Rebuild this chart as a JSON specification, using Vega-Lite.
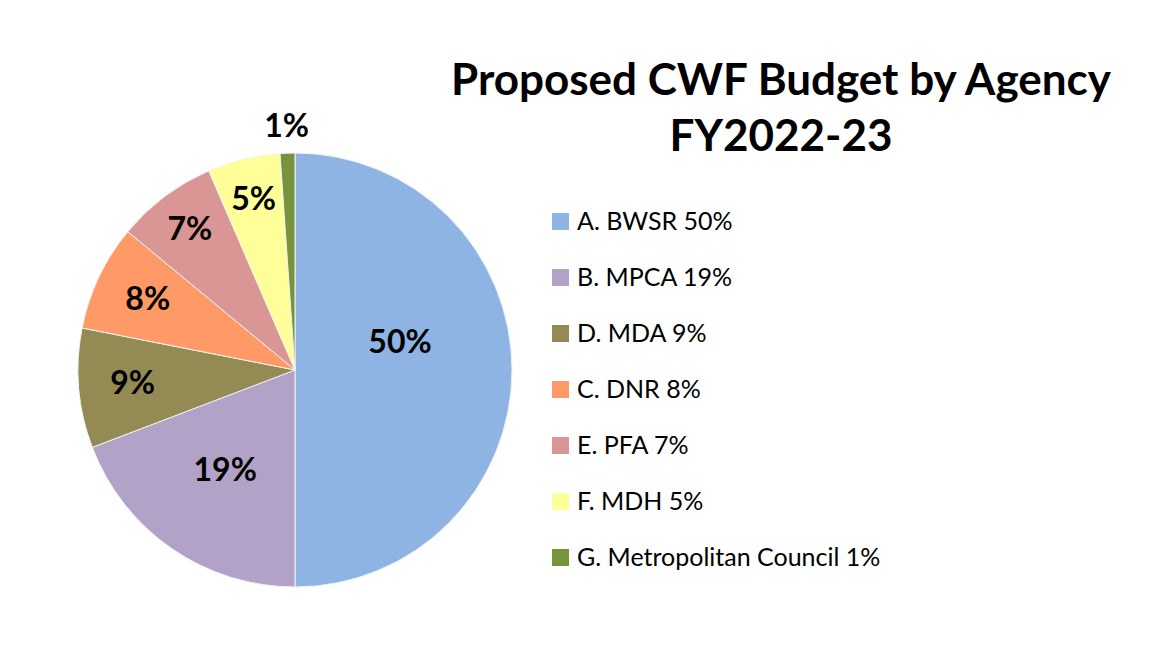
{
  "$schema": "https://vega.github.io/schema/vega-lite/v6.json",
  "width": 434,
  "height": 434,
  "autosize": {"type": "none"},
  "padding": {"left": 78, "top": 153, "right": 651, "bottom": 82},
  "background": "white",
  "title": {
    "text": ["Proposed CWF Budget by Agency", "FY2022-23"],
    "font": "Lato",
    "fontSize": 44,
    "fontWeight": "bold",
    "color": "black",
    "anchor": "middle",
    "dx": 486,
    "dy": 49,
    "offset": 0,
    "lineHeight": 56
  },
  "data": {
    "values": [
      {"order": 1, "agency": "A. BWSR 50%", "value": 50.0, "label": "50%"},
      {"order": 2, "agency": "B. MPCA 19%", "value": 19.2, "label": "19%"},
      {"order": 3, "agency": "D. MDA 9%", "value": 8.9, "label": "9%"},
      {"order": 4, "agency": "C. DNR 8%", "value": 7.9, "label": "8%"},
      {"order": 5, "agency": "E. PFA 7%", "value": 7.5, "label": "7%"},
      {"order": 6, "agency": "F. MDH 5%", "value": 5.4, "label": "5%"},
      {"order": 7, "agency": "G. Metropolitan Council 1%", "value": 1.1, "label": "1%"}
    ]
  },
  "encoding": {
    "theta": {"field": "value", "type": "quantitative", "stack": true},
    "order": {"field": "order", "type": "quantitative"}
  },
  "layer": [
    {
      "mark": {"type": "arc", "stroke": "#f2f2f2", "strokeWidth": 1},
      "encoding": {
        "color": {
          "field": "agency",
          "type": "nominal",
          "scale": {
            "domain": ["A. BWSR 50%", "B. MPCA 19%", "D. MDA 9%", "C. DNR 8%", "E. PFA 7%", "F. MDH 5%", "G. Metropolitan Council 1%"],
            "range": ["#8EB4E3", "#B3A2C7", "#948A54", "#FF9966", "#D99694", "#FFFF99", "#77933C"]
          },
          "legend": {
            "orient": "none",
            "legendX": 470,
            "legendY": 56,
            "title": null,
            "padding": 0,
            "labelFont": "Lato",
            "labelFontSize": 25,
            "labelColor": "black",
            "symbolType": "square",
            "symbolSize": 289,
            "symbolStrokeWidth": 0,
            "symbolOpacity": 1,
            "rowPadding": 30,
            "labelOffset": 4,
            "labelLimit": 500
          }
        }
      }
    },
    {
      "mark": {"type": "text", "radius": 105, "dy": -27, "font": "Lato", "fontSize": 32, "fontWeight": "bold", "color": "black", "align": "center", "baseline": "middle"},
      "encoding": {"text": {"condition": {"test": "datum.order === 1", "field": "label"}, "value": ""}}
    },
    {
      "mark": {"type": "text", "radius": 123, "font": "Lato", "fontSize": 32, "fontWeight": "bold", "color": "black", "align": "center", "baseline": "middle"},
      "encoding": {"text": {"condition": {"test": "datum.order === 2", "field": "label"}, "value": ""}}
    },
    {
      "mark": {"type": "text", "radius": 163, "font": "Lato", "fontSize": 32, "fontWeight": "bold", "color": "black", "align": "center", "baseline": "middle"},
      "encoding": {"text": {"condition": {"test": "datum.order === 3 || datum.order === 4", "field": "label"}, "value": ""}}
    },
    {
      "mark": {"type": "text", "radius": 175, "font": "Lato", "fontSize": 32, "fontWeight": "bold", "color": "black", "align": "center", "baseline": "middle"},
      "encoding": {"text": {"condition": {"test": "datum.order === 5 || datum.order === 6", "field": "label"}, "value": ""}}
    },
    {
      "mark": {"type": "text", "radius": 243, "font": "Lato", "fontSize": 32, "fontWeight": "bold", "color": "black", "align": "center", "baseline": "middle"},
      "encoding": {"text": {"condition": {"test": "datum.order === 7", "field": "label"}, "value": ""}}
    }
  ],
  "config": {"view": {"stroke": null}}
}
